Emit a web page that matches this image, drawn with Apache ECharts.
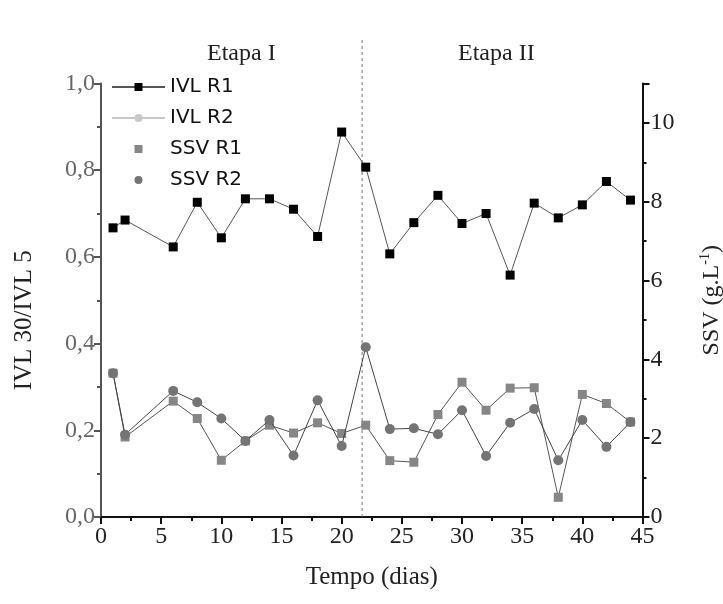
<!DOCTYPE html>
<html>
<head>
<meta charset="utf-8">
<script src="https://cdn.jsdelivr.net/npm/echarts@6/dist/echarts.min.js"></script>
</head>
<body style="margin:0">
<div id="main" style="width:723px;height:604px;"></div>
<script type="text/javascript">
// dias de amostragem
var dias = [1, 2, 6, 8, 10, 12, 14, 16, 18, 20, 22, 24, 26, 28, 30, 32, 34, 36, 38, 40, 42, 44];
// IVL 30 / IVL 5 (eixo esquerdo)
var ivlR1 = [0.667, 0.685, 0.623, 0.726, 0.644, 0.734, 0.734, 0.710, 0.647, 0.888, 0.807,
             0.607, 0.679, 0.742, 0.677, 0.700, 0.558, 0.724, 0.690, 0.720, 0.774, 0.731];
var ivlR2 = [];
// SSV g/L (eixo direito)
var ssvR1 = [3.65, 2.03, 2.94, 2.50, 1.44, 1.93, 2.33, 2.13, 2.39, 2.12, 2.33,
             1.43, 1.39, 2.60, 3.42, 2.71, 3.27, 3.28, 0.50, 3.11, 2.88, 2.41];
var ssvR2 = [3.65, 2.09, 3.20, 2.91, 2.50, 1.93, 2.46, 1.56, 2.96, 1.80, 4.31,
             2.23, 2.25, 2.10, 2.71, 1.55, 2.39, 2.74, 1.44, 2.46, 1.78, 2.41];
var ticksSSV = [0, 2, 4, 6, 8, 10];
var divisao = 21.7;

function pares(v) {
  return v.map(function (y, i) { return [dias[i], y]; });
}

var serif = 'Liberation Serif';
var myChart = echarts.init(document.getElementById('main'));
myChart.setOption({
  animation: false,
  grid: { left: 101, right: 80.5, top: 83.5, bottom: 87, outerBoundsMode: 'none' },
  legend: {
    orient: 'vertical',
    left: 106,
    top: 72,
    itemGap: 11,
    itemWidth: 53,
    itemHeight: 10,
    textStyle: { fontFamily: 'DejaVu Sans', fontSize: 20, color: '#111' },
    data: [
      { name: 'IVL R1' },
      { name: 'IVL R2' },
      { name: 'SSV R1', lineStyle: { opacity: 0 } },
      { name: 'SSV R2', lineStyle: { opacity: 0 } }
    ]
  },
  xAxis: {
    type: 'value',
    min: 0, max: 45, interval: 5,
    name: 'Tempo (dias)',
    nameLocation: 'middle',
    nameGap: 48,
    nameTextStyle: { fontFamily: serif, fontSize: 25, color: '#222' },
    axisLine: { lineStyle: { color: '#111', width: 2 } },
    axisTick: { length: 7, lineStyle: { color: '#111', width: 2 } },
    minorTick: { show: true, splitNumber: 2, length: 4, lineStyle: { color: '#111', width: 2 } },
    axisLabel: { fontFamily: serif, fontSize: 24, color: '#222', margin: 8 },
    splitLine: { show: false }
  },
  yAxis: [{
    type: 'value',
    min: 0, max: 1, interval: 0.2,
    name: 'IVL 30/IVL 5',
    nameLocation: 'middle',
    nameRotate: 90,
    nameGap: 64,
    nameTextStyle: { fontFamily: serif, fontSize: 25, color: '#222', padding: [0, 40, 0, 0] },
    axisLine: { show: true, lineStyle: { color: '#555', width: 2 } },
    axisTick: { show: true, length: 7, lineStyle: { color: '#555', width: 2 } },
    minorTick: { show: true, splitNumber: 2, length: 4, lineStyle: { color: '#555', width: 2 } },
    axisLabel: {
      fontFamily: serif, fontSize: 24, color: '#666', margin: 6,
      formatter: function (v) { return v.toFixed(1).replace('.', ','); }
    },
    splitLine: { show: false }
  }, {
    type: 'value',
    position: 'right',
    min: 0, max: 11, interval: 2,
    name: '{n|SSV (g.L}{s|-1}{n|)}',
    nameLocation: 'middle',
    nameRotate: 90,
    nameGap: 56,
    nameTextStyle: {
      rich: {
        n: { fontFamily: serif, fontSize: 24, color: '#222' },
        s: { fontFamily: serif, fontSize: 14, color: '#222', verticalAlign: 'top', padding: [0, 0, 12, 0] }
      }
    },
    axisLine: { show: true, lineStyle: { color: '#111', width: 2 } },
    axisTick: { show: true, length: 7, lineStyle: { color: '#111', width: 2 } },
    minorTick: { show: true, splitNumber: 2, length: 4, lineStyle: { color: '#111', width: 2 } },
    axisLabel: { fontFamily: serif, fontSize: 24, color: '#222', margin: 8, customValues: ticksSSV },
    splitLine: { show: false }
  }],
  series: [{
    name: 'IVL R1',
    type: 'line',
    yAxisIndex: 0,
    data: pares(ivlR1),
    symbol: 'rect',
    symbolSize: 9,
    itemStyle: { color: '#000' },
    lineStyle: { color: '#555', width: 1 },
    z: 4
  }, {
    name: 'IVL R2',
    type: 'line',
    yAxisIndex: 0,
    data: ivlR2,
    symbol: 'circle',
    symbolSize: 10,
    itemStyle: { color: '#c8c8c8' },
    lineStyle: { color: '#c8c8c8', width: 1 }
  }, {
    name: 'SSV R1',
    type: 'line',
    yAxisIndex: 1,
    data: pares(ssvR1),
    symbol: 'rect',
    symbolSize: 9,
    itemStyle: { color: '#868686' },
    lineStyle: { color: '#555', width: 1 },
    z: 2
  }, {
    name: 'SSV R2',
    type: 'line',
    yAxisIndex: 1,
    data: pares(ssvR2),
    symbol: 'circle',
    symbolSize: 10,
    itemStyle: { color: '#747474' },
    lineStyle: { color: '#444', width: 1 },
    z: 3
  }]
});

// linha tracejada entre as etapas e os rótulos
var px = myChart.convertToPixel({ xAxisIndex: 0 }, divisao);
var base = myChart.convertToPixel({ yAxisIndex: 0 }, 0);
myChart.setOption({
  graphic: [{
    type: 'line',
    shape: { x1: px, y1: 40, x2: px, y2: base },
    style: { stroke: '#777', lineWidth: 1, lineDash: [3, 3] },
    z: 1
  }, {
    type: 'text',
    left: 207, top: 42,
    style: { text: 'Etapa I', font: '24px "Liberation Serif"', fill: '#222' }
  }, {
    type: 'text',
    left: 458, top: 42,
    style: { text: 'Etapa II', font: '24px "Liberation Serif"', fill: '#222' }
  }]
});
</script>
</body>
</html>
